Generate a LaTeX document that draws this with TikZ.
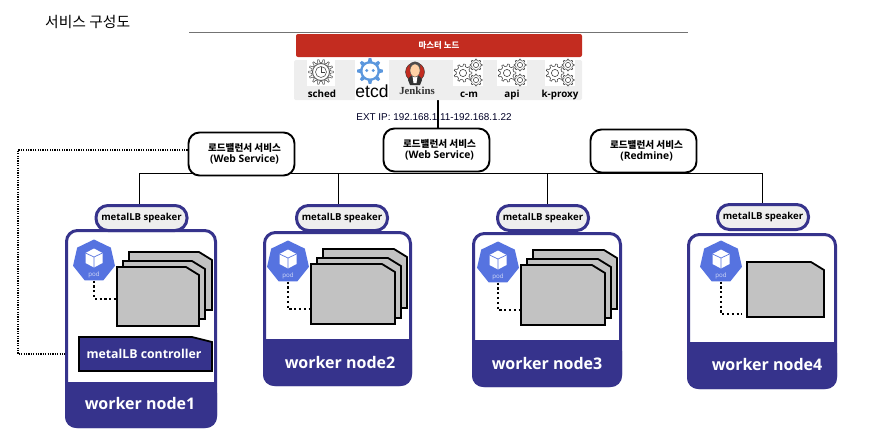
\documentclass[tikz,border=0pt]{standalone}
\usepackage{fontspec}
\setmainfont{Open Sans}
\newfontfamily\kr{Noto Sans CJK KR}
\newfontfamily\lib{Liberation Sans}
\newfontfamily\libs{Liberation Serif}
\usetikzlibrary{shapes.geometric,backgrounds}
\definecolor{navy}{HTML}{36338C}
\definecolor{podblue}{HTML}{5673E0}
\definecolor{mred}{HTML}{C32C20}
\definecolor{panel}{HTML}{EEEEEE}
\definecolor{cardgrey}{HTML}{C2C2C2}
\definecolor{etcdblue}{HTML}{5B97DD}
\tikzset{
  lbbox/.style={draw=black,line width=1.9pt,fill=white,rounded corners=11pt,inner sep=0pt,align=center,minimum width=#1,minimum height=43pt},
  speakerbox/.style={draw=navy,line width=3pt,fill=panel,rounded corners=12pt,inner sep=0pt,minimum width=91pt,minimum height=25pt,font=\bfseries\fontsize{9.6}{12}\selectfont},
  cardshape/.style={draw=black,line width=1.8pt,fill=cardgrey,line join=miter},
  ctrlshape/.style={draw=black,line width=1.8pt,fill=navy},
  nameplate/.style={inner sep=0pt},
  ctrltext/.style={inner sep=0pt,text=white,font=\bfseries\fontsize{12.3}{14}\selectfont},
  podshape/.style={regular polygon,regular polygon sides=7,minimum size=43pt,inner sep=0pt,fill=podblue},
  wlabel/.style={text=white,font=\bfseries\fontsize{16}{18}\selectfont,inner sep=0pt},
  iconlabel/.style={font=\bfseries\fontsize{9.8}{11}\selectfont,inner sep=0pt},
  podlink/.style={line width=1.9pt,dash pattern=on 2.2pt off 2.6pt},
  ctrllink/.style={line width=1.1pt,dash pattern=on 1.2pt off 1.2pt},
  buswire/.style={line width=1pt,draw=black}
}
\newcommand{\lbtext}[1]{\hspace*{6pt}{\kr\bfseries\fontsize{9.6}{13}\selectfont 로드밸런서 서비스}\\[-.5pt]\hspace*{6pt}{\bfseries\fontsize{10.3}{11}\selectfont #1}}
% center x, center y, outer radius, teeth
\newcommand{\geargl}[5][line width=.55pt,draw=black!75,fill=white]{%
  \begin{scope}[shift={(#2,#3)}]
    \pgfmathsetmacro\gst{360/#5}
    \pgfmathsetmacro\gri{#4*.76}
    \path[#1] (\gst-.27*\gst:\gri)
      \foreach \gi in {1,...,#5}{ -- (\gi*\gst-.27*\gst:\gri) -- (\gi*\gst-.13*\gst:#4) -- (\gi*\gst+.13*\gst:#4) -- (\gi*\gst+.27*\gst:\gri)} -- cycle;
  \end{scope}}
\newcommand{\threegears}[1]{%
  \geargl{#1+10}{73}{9}{9}
  \draw[line width=.55pt,draw=black!75] (#1+10,73) circle (3.6);
  \geargl{#1+23}{65}{6}{8}
  \draw[line width=.55pt,draw=black!75] (#1+23,65) circle (2.6);
  \geargl{#1+23}{80}{6}{8}
  \draw[line width=.55pt,draw=black!75] (#1+23,80) circle (2.6);}
% name, cx, cy
\newcommand{\podicon}[3]{%
  \node[podshape] (#1) at (#2,#3) {};
  \fill[white] (#2,#3-12.5) -- (#2+8.5,#3-8) -- (#2+8.5,#3+2) -- (#2,#3+6.5) -- (#2-8.5,#3+2) -- (#2-8.5,#3-8) -- cycle;
  \draw[podblue,line width=.7pt] (#2-8.5,#3-8) -- (#2,#3-4) -- (#2+8.5,#3-8) (#2,#3-4) -- (#2,#3+6.5);
  \node[text=white!75!podblue,inner sep=0pt,font=\fontsize{6.2}{7}\selectfont] at (#2,#3+13.5) {pod};}
% prefix, x1,y1,x2,y2,divider,label,lx,ly
\newcommand{\workerframe}[9]{%
  \node[draw=navy,line width=3pt,fill=white,rounded corners=11pt,inner sep=0pt,minimum width={#4-#2-3pt},minimum height={#5-#3-3pt}] (#1) at ({(#2+#4)/2},{(#3+#5)/2}) {};
  \path[fill=navy,rounded corners=11pt] (#2,#6) -- (#2,#5) -- (#4,#5) -- (#4,#6) [sharp corners] -- cycle;
  \fill[navy] (#2,#6) rectangle (#4,#6+6);
  \node[wlabel] (#1t) at (#8,#9) {#7};}
% name,x1,y1,x2,y2
\newcommand{\cardat}[5]{%
  \path[cardshape] (#2,#3) -- (#4-13,#3) -- (#4,#3+8) -- (#4,#5) -- (#2,#5) -- cycle;
  \node[nameplate,minimum width={#4-#2},minimum height={#5-#3}] (#1) at ({(#2+#4)/2},{(#3+#5)/2}) {};}
\begin{document}
\begin{tikzpicture}[x=1pt,y=-1pt]
\useasboundingbox (0,0) rectangle (883,437);
% title
\node[inner sep=0pt,anchor=west,font=\kr\fontsize{14.8}{16}\selectfont] (title) at (45,22) {서비스 구성도};
\coordinate (ruleL) at (189,32);
\coordinate (ruleR) at (688,32);
\draw[line width=.8pt,black!55] (ruleL) -- (ruleR);
% master
\node[fill=panel,rounded corners=1.5pt,inner sep=0pt,minimum width=288pt,minimum height=40pt] (mpanel) at (438,80) {};
\node[fill=mred,rounded corners=2pt,inner sep=0pt,minimum width=286pt,minimum height=23pt,text=white,font=\kr\bfseries\fontsize{8.4}{9}\selectfont] (mbar) at (439,45.5) {마스터 노드};
\fill[white] (307,60) rectangle (335,86);
\fill[white] (355,60) rectangle (389,100);
\fill[white] (453,60) rectangle (483,86);
\fill[white] (497,60) rectangle (527,86);
\fill[white] (545,60) rectangle (575,86);
% sched
\geargl[line width=.5pt,draw=black!70,fill=white]{321}{72}{12.5}{14}
\draw[black!65,line width=.9pt] (321,72) circle (8.5);
\draw[black!65,line width=.6pt] (321,72) circle (5.5);
\draw[black!75,line width=.6pt] (321,67) -- (321,72) -- (325,72);
\node[iconlabel] (sched) at (322,93.5) {sched};
% etcd
\geargl[fill=etcdblue]{370}{71}{13}{8}
\fill[white] (370,71) circle (7.5);
\fill[etcdblue] (366.8,70.5) circle (1.6) (373.2,70.5) circle (1.6);
\node[inner sep=0pt,font=\lib\fontsize{17.5}{18}\selectfont] (etcd) at (372,91) {etcd};
% jenkins
\fill[mred] (415,72) circle (9.5);
\draw[black!80,line width=.4pt] (415,72) circle (9.5);
\fill[black!80] (408,80) .. controls (410,73) and (420,73) .. (422,80) -- (420,85) -- (410,85) -- cycle;
\fill[white] (412.5,76) -- (417.5,76) -- (416.5,83) -- (413.5,83) -- cycle;
\fill[black!70] (409.5,66) .. controls (410,60) and (420,60) .. (420.5,66) -- (420,69) -- (410,69) -- cycle;
\fill[orange!35!white] (415,70.5) ellipse (5 and 6.5);
\draw[black!70,line width=.4pt] (415,70.5) ellipse (5 and 6.5);
\node[inner sep=0pt,text=black!80,font=\libs\bfseries\fontsize{10.8}{12}\selectfont] (jenkins) at (417,91) {Jenkins};
% gears
\threegears{453}
\threegears{497}
\threegears{545}
\node[iconlabel] (cm) at (469,94.5) {c-m};
\node[iconlabel] (api) at (512,94.5) {api};
\node[iconlabel] (kproxy) at (560,94.5) {k-proxy};
% load balancers
\node[lbbox=106pt] (lb1) at (241.5,154) {\lbtext{(Web Service)}};
\node[lbbox=106pt] (lb2) at (436.5,150) {\lbtext{(Web Service)}};
\node[lbbox=106pt] (lb3) at (643.5,151) {\lbtext{(Redmine)}};
% workers
\workerframe{w1}{65}{229}{217}{428}{382}{worker node1}{140}{403}
\workerframe{w2}{263}{231}{412}{386}{339}{worker node2}{340}{362}
\workerframe{w3}{472}{232}{622}{387}{340}{worker node3}{547}{363}
\workerframe{w4}{687}{233}{837}{389}{342}{worker node4}{767}{364}
% speakers
\node[speakerbox] (s1) at (141.5,218) {metalLB speaker};
\node[speakerbox] (s2) at (342,218) {metalLB speaker};
\node[speakerbox] (s3) at (543,218) {metalLB speaker};
\node[speakerbox] (s4) at (763,217) {metalLB speaker};
% pods
\podicon{p1}{94}{261}
\podicon{p2}{288}{262}
\podicon{p3}{498}{263}
\podicon{p4}{721}{262}
% cards
\cardat{c1c}{129}{252}{212}{310}
\cardat{c1b}{123}{261}{205}{319}
\cardat{c1a}{117}{267}{199}{326}
\cardat{c2c}{323}{249}{407}{308}
\cardat{c2b}{317}{258}{401}{318}
\cardat{c2a}{311}{264}{395}{324}
\cardat{c3c}{533}{250}{617}{309}
\cardat{c3b}{527}{259}{611}{318}
\cardat{c3a}{521}{265}{605}{325}
\cardat{c4a}{747}{262}{824}{317}
\path[ctrlshape] (79,337) -- (192,337) -- (212,342) -- (212,371) -- (79,371) -- cycle;
\node[nameplate,minimum width=133pt,minimum height=34pt] (ctrlbox) at (145.5,354) {};
\node[ctrltext] (ctrl) at (144,354) {metalLB controller};
\node[inner sep=0pt,text=black!85!blue,font=\lib\fontsize{9.9}{11}\selectfont] (ext) at (434,117) {EXT IP: 192.168.1.11-192.168.1.22};
% connectors
\coordinate (j1) at (117,299);
\coordinate (j2) at (311,309);
\coordinate (j3) at (521,310);
\coordinate (j4) at (742,314);
\draw[podlink] (p1.south) |- (j1);
\draw[podlink] (p2.south) |- (j2);
\draw[podlink] (p3.south) |- (j3);
\draw[podlink] (p4.south) |- (j4);
\begin{pgfonlayer}{background}
\coordinate (bL) at (139,173);
\coordinate (b2) at (338,173);
\coordinate (b3) at (547,173);
\coordinate (bR) at (762,173);
\coordinate (far1) at (18,150);
\coordinate (far2) at (18,354);
\draw[buswire] (bL) -- (bR);
\draw[buswire] (bL) -- (bL |- s1.north);
\draw[buswire] (b2) -- (b2 |- s2.north);
\draw[buswire] (b3) -- (b3 |- s3.north);
\draw[buswire] (bR) -- (bR |- s4.north);
\draw[line width=1.5pt] (mpanel.south) -- (mpanel.south |- lb2.north);
\draw[ctrllink] (lb1.west |- far1) -- (far1) -- (far2) -- (ctrlbox.west |- far2);
\end{pgfonlayer}
\end{tikzpicture}
\end{document}
